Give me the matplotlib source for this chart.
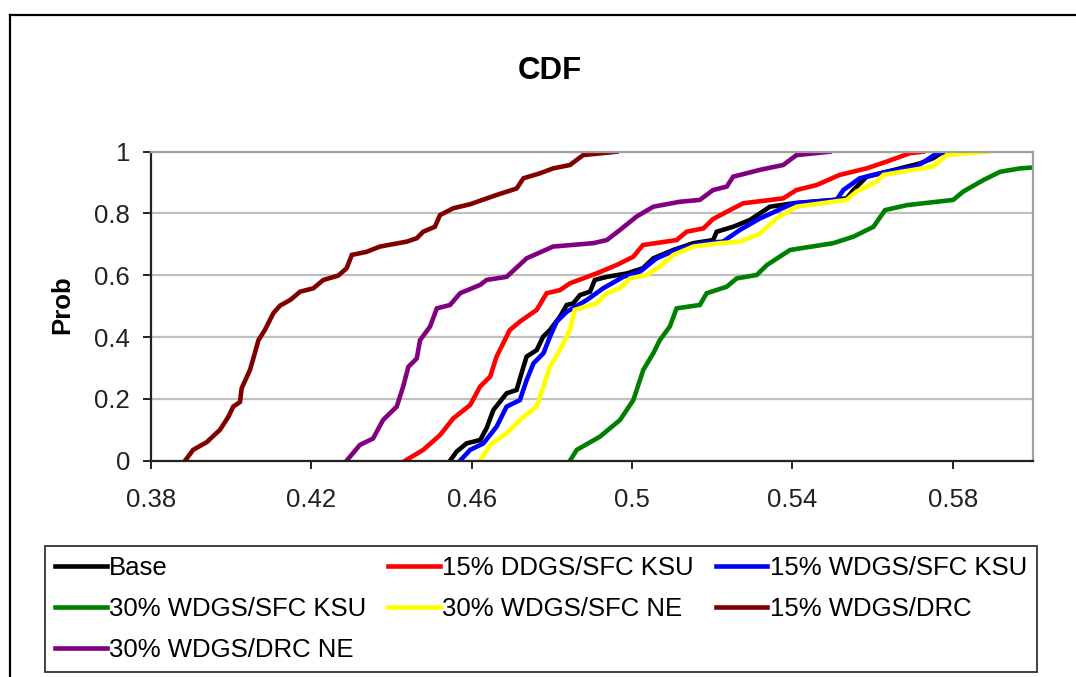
import matplotlib.pyplot as plt
from matplotlib.lines import Line2D

plt.rcParams['font.family'] = ['Liberation Sans', 'DejaVu Sans']

# Series: x value (share) and cumulative probability
base_x = [0.4546, 0.4562, 0.4587, 0.4621, 0.4637, 0.4654, 0.4687, 0.4712, 0.4729, 0.4737,
          0.4762, 0.4778, 0.4795, 0.4820, 0.4837, 0.4853, 0.4870, 0.4895, 0.4907, 0.4937,
          0.4987, 0.5027, 0.5053, 0.5103, 0.5153, 0.5202, 0.5211, 0.5252, 0.5294, 0.5344,
          0.5402, 0.5502, 0.5535, 0.5552, 0.5585, 0.5635, 0.5718, 0.5751, 0.5776]
base_p = [0.0, 0.029, 0.056, 0.067, 0.105, 0.164, 0.218, 0.229, 0.304, 0.337,
          0.358, 0.401, 0.423, 0.466, 0.504, 0.509, 0.536, 0.547, 0.585, 0.595,
          0.606, 0.623, 0.655, 0.682, 0.704, 0.714, 0.741, 0.757, 0.779, 0.822,
          0.833, 0.844, 0.849, 0.876, 0.919, 0.935, 0.962, 0.979, 1.0]

ddgs15_x = [0.4434, 0.4479, 0.4521, 0.4554, 0.4596, 0.4621, 0.4646, 0.4662, 0.4695, 0.4720,
            0.4762, 0.4787, 0.4820, 0.4845, 0.4911, 0.4961, 0.5003, 0.5027, 0.5111, 0.5136,
            0.5178, 0.5202, 0.5244, 0.5277, 0.5377, 0.5410, 0.5460, 0.5518, 0.5585, 0.5635,
            0.5693, 0.5726]
ddgs15_p = [0.0, 0.035, 0.083, 0.137, 0.18, 0.24, 0.272, 0.337, 0.423, 0.45,
            0.488, 0.542, 0.552, 0.574, 0.606, 0.633, 0.66, 0.698, 0.714, 0.741,
            0.752, 0.782, 0.811, 0.833, 0.849, 0.876, 0.892, 0.925, 0.946, 0.968,
            0.995, 1.0]

wdgs15_x = [0.4571, 0.4596, 0.4629, 0.4662, 0.4687, 0.4720, 0.4737, 0.4754, 0.4779, 0.4795,
            0.4812, 0.4837, 0.4887, 0.4928, 0.4978, 0.5020, 0.5061, 0.5119, 0.5178, 0.5227,
            0.5269, 0.5319, 0.5402, 0.5510, 0.5527, 0.5568, 0.5635, 0.5710, 0.5735, 0.5760,
            0.5810]
wdgs15_p = [0.0, 0.035, 0.056, 0.11, 0.175, 0.196, 0.261, 0.315, 0.348, 0.401,
            0.45, 0.482, 0.52, 0.558, 0.595, 0.612, 0.655, 0.687, 0.704, 0.709,
            0.747, 0.784, 0.833, 0.844, 0.876, 0.914, 0.935, 0.952, 0.973, 0.995,
            1.0]

wdgs30_ksu_x = [0.4845, 0.4862, 0.4920, 0.4970, 0.5003, 0.5028, 0.5053, 0.5069, 0.5094, 0.5111,
                0.5169, 0.5186, 0.5236, 0.5261, 0.5311, 0.5336, 0.5394, 0.5502, 0.5552, 0.5602,
                0.5631, 0.5685, 0.5801, 0.5826, 0.5876, 0.5918, 0.5968, 0.6000]
wdgs30_ksu_p = [0.0, 0.035, 0.078, 0.132, 0.196, 0.294, 0.348, 0.39, 0.434, 0.493,
                0.504, 0.542, 0.563, 0.59, 0.601, 0.633, 0.682, 0.704, 0.725, 0.757,
                0.811, 0.827, 0.844, 0.871, 0.908, 0.935, 0.946, 0.949]

wdgs30_ne_x = [0.4621, 0.4646, 0.4687, 0.4729, 0.4762, 0.4779, 0.4795, 0.4820, 0.4845, 0.4857,
               0.4911, 0.4937, 0.4970, 0.4995, 0.5036, 0.5069, 0.5103, 0.5153, 0.5220, 0.5269,
               0.5319, 0.5360, 0.5410, 0.5535, 0.5560, 0.5610, 0.5627, 0.5751, 0.5785, 0.5885]
wdgs30_ne_p = [0.0, 0.051, 0.089, 0.142, 0.175, 0.24, 0.304, 0.358, 0.423, 0.488,
               0.509, 0.542, 0.558, 0.59, 0.601, 0.628, 0.666, 0.693, 0.704, 0.709,
               0.735, 0.784, 0.822, 0.844, 0.871, 0.903, 0.925, 0.952, 0.989, 1.0]

drc15_x = [0.3885, 0.3905, 0.3939, 0.3972, 0.3993, 0.4005, 0.4022, 0.4026, 0.4047, 0.4059,
           0.4068, 0.4084, 0.4105, 0.4122, 0.4147, 0.4172, 0.4205, 0.4230, 0.4267, 0.4288,
           0.4301, 0.4338, 0.4371, 0.4438, 0.4463, 0.4479, 0.4508, 0.4521, 0.4554, 0.4596,
           0.4662, 0.4712, 0.4729, 0.4770, 0.4803, 0.4845, 0.4878, 0.4961]
drc15_p = [0.0, 0.035, 0.06, 0.10, 0.142, 0.175, 0.19, 0.234, 0.294, 0.348,
           0.39, 0.423, 0.477, 0.502, 0.52, 0.547, 0.558, 0.585, 0.599, 0.623,
           0.666, 0.676, 0.693, 0.709, 0.72, 0.741, 0.757, 0.795, 0.817, 0.83,
           0.86, 0.881, 0.914, 0.93, 0.946, 0.957, 0.989, 1.0]

drc30_ne_x = [0.4288, 0.4321, 0.4354, 0.4379, 0.4413, 0.4429, 0.4442, 0.4463, 0.4471, 0.4496,
              0.4513, 0.4546, 0.4571, 0.4621, 0.4637, 0.4687, 0.4737, 0.4803, 0.4903, 0.4937,
              0.4970, 0.5011, 0.5053, 0.5119, 0.5169, 0.5202, 0.5236, 0.5252, 0.5318, 0.5377,
              0.5410, 0.5493]
drc30_ne_p = [0.0, 0.051, 0.072, 0.132, 0.175, 0.24, 0.304, 0.331, 0.39, 0.434,
              0.493, 0.504, 0.542, 0.569, 0.585, 0.595, 0.655, 0.693, 0.704, 0.714,
              0.747, 0.79, 0.822, 0.838, 0.844, 0.876, 0.887, 0.919, 0.941, 0.957,
              0.989, 1.0]

series = [
    ('Base', base_x, base_p, '#000000'),
    ('15% DDGS/SFC KSU', ddgs15_x, ddgs15_p, '#ff0000'),
    ('15% WDGS/SFC KSU', wdgs15_x, wdgs15_p, '#0000ff'),
    ('30% WDGS/SFC KSU', wdgs30_ksu_x, wdgs30_ksu_p, '#008000'),
    ('30% WDGS/SFC NE', wdgs30_ne_x, wdgs30_ne_p, '#ffff00'),
    ('15% WDGS/DRC', drc15_x, drc15_p, '#800000'),
    ('30% WDGS/DRC NE', drc30_ne_x, drc30_ne_p, '#800080'),
]

x_ticks = [0.38, 0.42, 0.46, 0.5, 0.54, 0.58]
x_tick_labels = ['0.38', '0.42', '0.46', '0.5', '0.54', '0.58']
y_ticks = [0, 0.2, 0.4, 0.6, 0.8, 1]
y_tick_labels = ['0', '0.2', '0.4', '0.6', '0.8', '1']

fig = plt.figure(figsize=(10.76, 6.77), dpi=100)
W, H = 1076, 677
ax = fig.add_axes([151 / W, 1 - 460.7 / H, 882 / W, 309 / H])

lines = {}
for name, xs, ps, col in series:
    ln, = ax.plot(xs, ps, color=col, linewidth=3.3, label=name, solid_joinstyle='miter')
    lines[name] = ln

ax.set_xlim(0.38, 0.60)
ax.set_ylim(0, 1)
ax.set_xticks(x_ticks)
ax.set_xticklabels(x_tick_labels)
ax.set_yticks(y_ticks)
ax.set_yticklabels(y_tick_labels)
ax.tick_params(axis='both', direction='out', length=6, width=1.4, labelsize=18.5,
               colors='#222222')
ax.tick_params(axis='x', pad=13.5)
ax.tick_params(axis='y', pad=9)
ax.yaxis.grid(True, color='#c0c0c0', linewidth=1.6)
ax.set_axisbelow(True)
for side in ['left', 'bottom']:
    ax.spines[side].set_color('#222222')
    ax.spines[side].set_linewidth(1.6)
for side in ['top', 'right']:
    ax.spines[side].set_color('#a0a0a0')
    ax.spines[side].set_linewidth(1.6)

fig.text(550 / W, 1 - 71 / H, 'CDF', ha='center', va='center', fontsize=22.5,
         fontweight='bold')
fig.text(62 / W, 1 - 305 / H, 'Prob', ha='center', va='center', rotation=90,
         fontsize=18.5, fontweight='bold')

# legend order: column-first, 3 columns
order = ['Base', '30% WDGS/SFC KSU', '30% WDGS/DRC NE',
         '15% DDGS/SFC KSU', '30% WDGS/SFC NE',
         '15% WDGS/SFC KSU', '15% WDGS/DRC']
leg = fig.legend([lines[n] for n in order], order, loc='upper left',
                 bbox_to_anchor=(45 / W, 1 - 546 / H), bbox_transform=fig.transFigure,
                 ncol=3, fontsize=18.5, frameon=True, fancybox=False, edgecolor='#000000',
                 handlelength=2.0, handletextpad=0.1, columnspacing=0.85,
                 labelspacing=0.66, borderpad=0.4, borderaxespad=0)
leg.get_frame().set_linewidth(1.3)
for h in leg.legend_handles:
    h.set_linewidth(3.3)

# outer chart border (left and top edges visible)
fig.add_artist(Line2D([10 / W, 10 / W], [0, 1 - 15 / H], transform=fig.transFigure,
                      color='black', linewidth=1.6))
fig.add_artist(Line2D([10 / W, 1], [1 - 15 / H, 1 - 15 / H], transform=fig.transFigure,
                      color='black', linewidth=1.6))

plt.savefig('out.png', dpi=100)
